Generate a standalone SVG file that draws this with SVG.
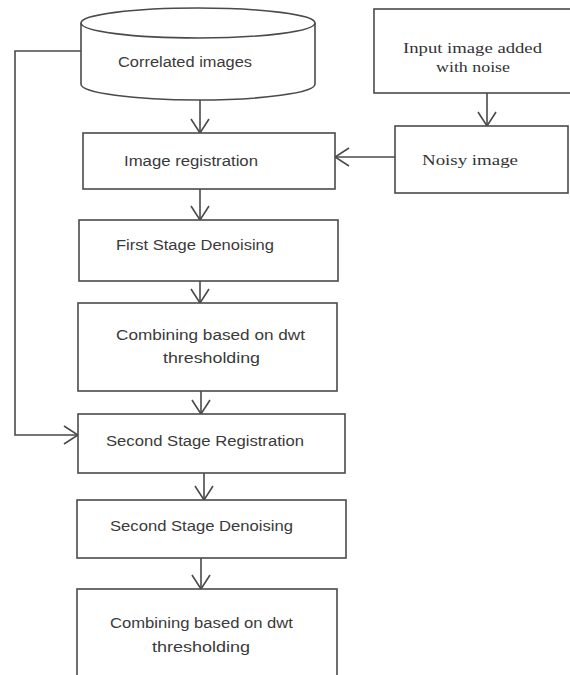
<svg xmlns="http://www.w3.org/2000/svg" width="570" height="675" viewBox="0 0 570 675">
<defs>
<style>
.box{fill:#fff;stroke:#4a4a4a;stroke-width:1.6}
.ln{fill:none;stroke:#4a4a4a;stroke-width:1.6}
.t{font-family:"Liberation Sans","DejaVu Sans",sans-serif;font-size:14px;fill:#3a3a3a}
.s{font-family:"Liberation Serif","DejaVu Serif",serif;font-size:15px;fill:#333}
</style>
<marker id="ah" viewBox="0 0 16 20" refX="15" refY="10" markerWidth="16" markerHeight="20" markerUnits="userSpaceOnUse" orient="auto">
<path d="M1,1 L15,10 L1,19" fill="none" stroke="#4a4a4a" stroke-width="1.6"/>
</marker>
</defs>
<rect width="570" height="675" fill="#fff"/>
<g id="connectors">
<line class="ln" x1="200" y1="100" x2="200" y2="133" marker-end="url(#ah)"/>
<line class="ln" x1="487" y1="93" x2="487" y2="126" marker-end="url(#ah)"/>
<line class="ln" x1="395" y1="157" x2="335" y2="157" marker-end="url(#ah)"/>
<line class="ln" x1="200" y1="189" x2="200" y2="220" marker-end="url(#ah)"/>
<line class="ln" x1="200" y1="281" x2="200" y2="303" marker-end="url(#ah)"/>
<line class="ln" x1="201" y1="391" x2="201" y2="414" marker-end="url(#ah)"/>
<polyline class="ln" points="81,51 15,51 15,435 78,435" marker-end="url(#ah)"/>
<line class="ln" x1="204" y1="473" x2="204" y2="500" marker-end="url(#ah)"/>
<line class="ln" x1="201" y1="558" x2="201" y2="589" marker-end="url(#ah)"/>
</g>
<g id="correlated">
<path class="box" d="M81,23 L81,84 A117,16 0 0 0 315,84 L315,23"/>
<ellipse class="box" cx="198" cy="23" rx="117" ry="15"/>
<text class="t" x="118" y="67" textLength="134" lengthAdjust="spacingAndGlyphs">Correlated images</text>
</g>
<g id="input">
<rect class="box" x="374" y="9" width="200" height="84"/>
<text class="s" x="403" y="53" textLength="139" lengthAdjust="spacingAndGlyphs">Input image added</text>
<text class="s" x="436" y="72" textLength="74" lengthAdjust="spacingAndGlyphs">with noise</text>
</g>
<g id="noisy">
<rect class="box" x="395" y="126" width="173" height="67"/>
<text class="s" x="422" y="165" textLength="96" lengthAdjust="spacingAndGlyphs">Noisy  image</text>
</g>
<g id="registration">
<rect class="box" x="83" y="133" width="252" height="56"/>
<text class="t" x="124" y="166" textLength="134" lengthAdjust="spacingAndGlyphs">Image registration</text>
</g>
<g id="first-denoising">
<rect class="box" x="79" y="220" width="259" height="61"/>
<text class="t" x="116" y="250" textLength="158" lengthAdjust="spacingAndGlyphs">First Stage Denoising</text>
</g>
<g id="combining1">
<rect class="box" x="78" y="303" width="259" height="88"/>
<text class="t" x="116" y="340" textLength="189" lengthAdjust="spacingAndGlyphs">Combining based on dwt</text>
<text class="t" x="163" y="363" textLength="97" lengthAdjust="spacingAndGlyphs">thresholding</text>
</g>
<g id="second-registration">
<rect class="box" x="78" y="414" width="267" height="59"/>
<text class="t" x="106" y="446" textLength="198" lengthAdjust="spacingAndGlyphs">Second  Stage Registration</text>
</g>
<g id="second-denoising">
<rect class="box" x="77" y="500" width="269" height="58"/>
<text class="t" x="110" y="531" textLength="183" lengthAdjust="spacingAndGlyphs">Second  Stage Denoising</text>
</g>
<g id="combining2">
<rect class="box" x="77" y="589" width="260" height="92"/>
<text class="t" x="110" y="628" textLength="183" lengthAdjust="spacingAndGlyphs">Combining based on dwt</text>
<text class="t" x="152" y="652" textLength="98" lengthAdjust="spacingAndGlyphs">thresholding</text>
</g>
</svg>
